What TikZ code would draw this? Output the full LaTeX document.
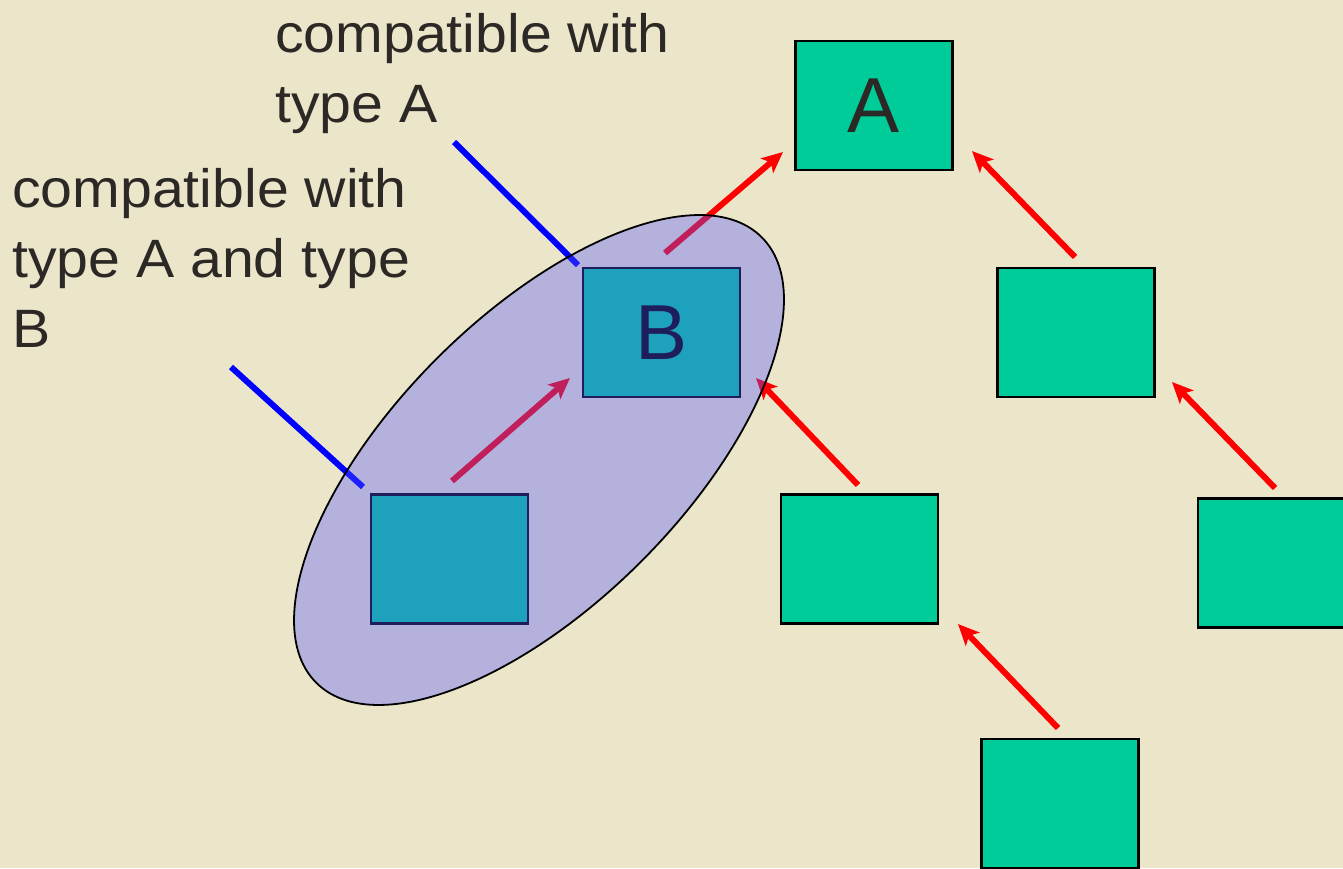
\documentclass[tikz,border=0pt]{standalone}
\usepackage{fontspec}
\setmainfont{Liberation Sans}
\newfontfamily\labfont[FakeStretch=1.06]{Liberation Sans}
\usetikzlibrary{arrows.meta,shapes.geometric}
\definecolor{bg}{RGB}{235,230,202}
\definecolor{boxgreen}{RGB}{0,204,153}
\definecolor{txt}{RGB}{43,40,37}
\definecolor{hatch}{RGB}{85,85,255}
\begin{document}
\begin{tikzpicture}[x=1pt,y=-1pt,
  box/.style={draw=black, line width=2.5pt, fill=boxgreen, minimum width=157pt,
    minimum height=129pt, inner sep=0pt, text=txt, font=\fontsize{78}{78}\selectfont},
  redarrow/.style={draw=red, line width=6pt, -{Stealth[length=21pt,width=19pt,inset=5pt]}},
  blueline/.style={draw=blue, line width=6pt},
  lab/.style={anchor=base west, align=left, text=txt, inner sep=0pt,
    font=\labfont\fontsize{54}{70}\selectfont},
  group/.style={ellipse, rotate=45, minimum width=630pt, minimum height=288pt,
    inner sep=0pt, fill=hatch, fill opacity=0.36, draw=black, draw opacity=1, line width=1.8pt}]
\fill[bg] (0,0) rectangle (1343,868);
\clip (0,0) rectangle (1343,868);
% boxes
\node[box] (nA) at (874,105.5) {\raisebox{-3pt}{A}};
\node[box] (nC) at (1076,332.5) {};
\node[box] (nB) at (661.5,332.5) {\raisebox{-3pt}{\color{black}B}};
\node[box] (nL) at (449.5,559) {};
\node[box] (nM) at (859.5,559) {};
\node[box] (nR) at (1276.5,563) {};
\node[box] (nD) at (1060,803.5) {};
% arrow end points
\coordinate (a1s) at (665,253);  \coordinate (a1e) at (783,152);
\coordinate (a2s) at (1075,257); \coordinate (a2e) at (972,151);
\coordinate (a3s) at (858,485);  \coordinate (a3e) at (756,378);
\coordinate (a4s) at (1275,488); \coordinate (a4e) at (1172,382);
\coordinate (a5s) at (1058,728); \coordinate (a5e) at (958,624);
\coordinate (a6s) at (452,481);  \coordinate (a6e) at (570,378);
\draw[redarrow] (a1s) -- (a1e);
\draw[redarrow] (a2s) -- (a2e);
\draw[redarrow] (a3s) -- (a3e);
\draw[redarrow] (a4s) -- (a4e);
\draw[redarrow] (a5s) -- (a5e);
\draw[redarrow] (a6s) -- (a6e);
% labels (base anchor = baseline of the last line)
\node[lab] (t1) at (275,122) {compatible with\\type A};
\node[lab] (t2) at (12,347) {compatible with\\type A and type\\B};
% pointer lines
\coordinate (p1s) at (454,142); \coordinate (p1e) at (578,265);
\coordinate (p2s) at (231,367); \coordinate (p2e) at (363,487);
\draw[blueline] (p1s) -- (p1e);
\draw[blueline] (p2s) -- (p2e);
% group ellipse
\node[group] (grp) at (539,460) {};
\end{tikzpicture}
\end{document}
